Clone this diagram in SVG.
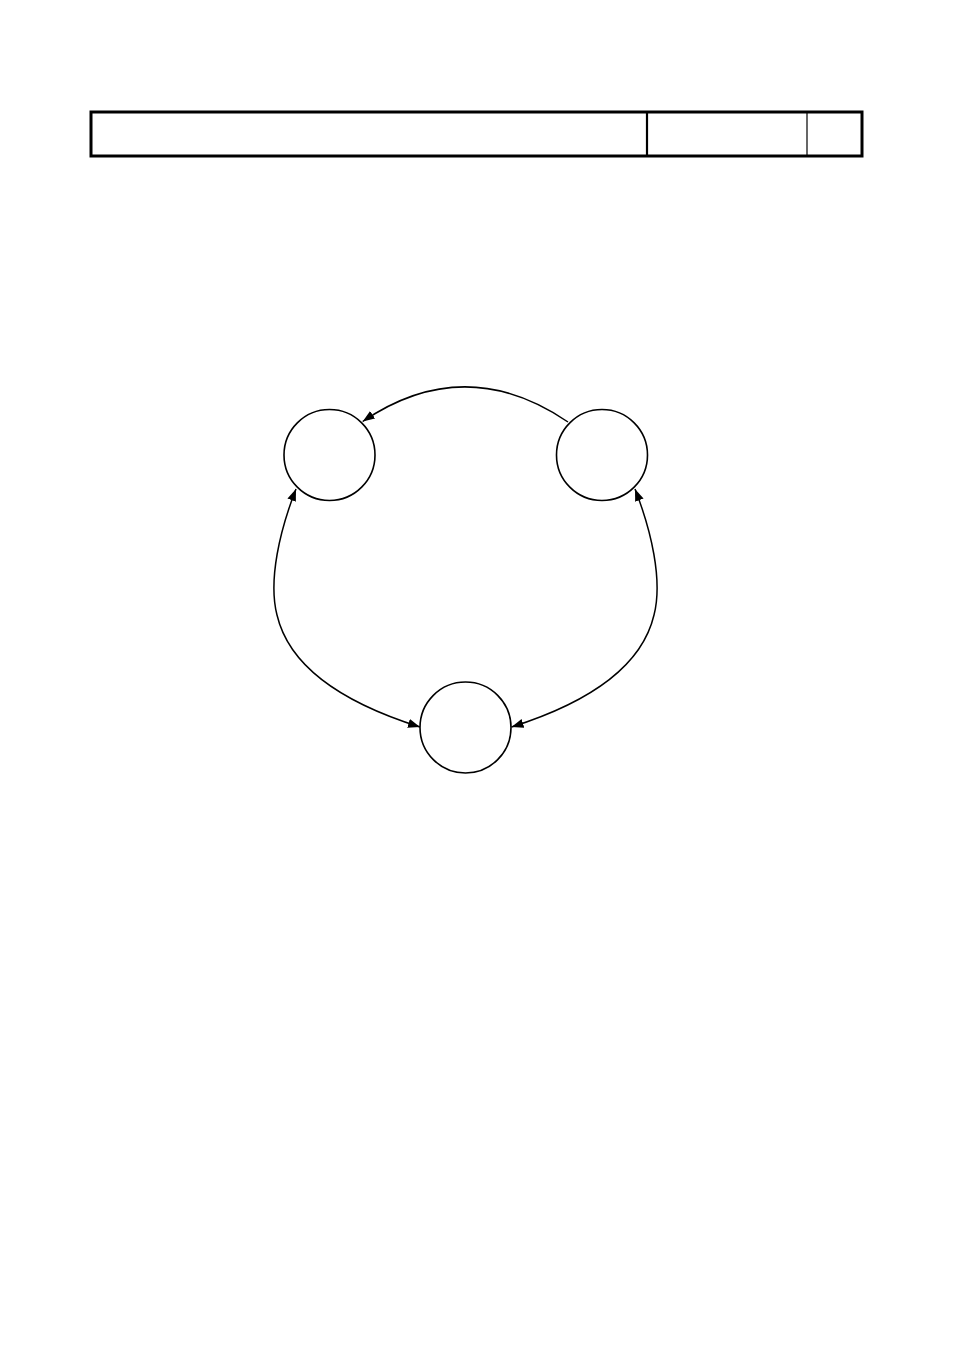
<svg xmlns="http://www.w3.org/2000/svg" width="954" height="1350" viewBox="0 0 954 1350">
<style>
.node{fill:#fff;stroke:#000;stroke-width:1.6}
.edge{fill:none;stroke:#000;stroke-width:1.5}
</style>
<defs>
<marker id="arr" markerUnits="userSpaceOnUse" markerWidth="13" markerHeight="10" refX="12" refY="4.5" orient="auto-start-reverse" viewBox="0 0 13 9">
<path d="M0,0 L12,4.5 L0,9 z" fill="#000"/>
</marker>
</defs>
<rect width="954" height="1350" fill="#fff"/>
<g id="header">
<rect x="91" y="112" width="771" height="44" fill="none" stroke="#000" stroke-width="3"/>
<line x1="647" y1="112" x2="647" y2="156" stroke="#000" stroke-width="2.2"/>
<line x1="807" y1="112" x2="807" y2="156" stroke="#000" stroke-width="1.2"/>
</g>
<g id="connectors">
<path class="edge" d="M568,422 Q465,352 362.7,421.5" marker-end="url(#arr)"/>
<path class="edge" d="M296,489 C280,530 268,580 277,615 C290,670 350,705 420,727" marker-start="url(#arr)" marker-end="url(#arr)"/>
<path class="edge" d="M635,489 C651,530 663,580 654,615 C641,670 581,705 511.5,727" marker-start="url(#arr)" marker-end="url(#arr)"/>
</g>
<g id="node-left"><circle class="node" cx="329.5" cy="455" r="45.5"/></g>
<g id="node-right"><circle class="node" cx="602" cy="455" r="45.5"/></g>
<g id="node-bottom"><circle class="node" cx="465.5" cy="727.5" r="45.5"/></g>
</svg>
